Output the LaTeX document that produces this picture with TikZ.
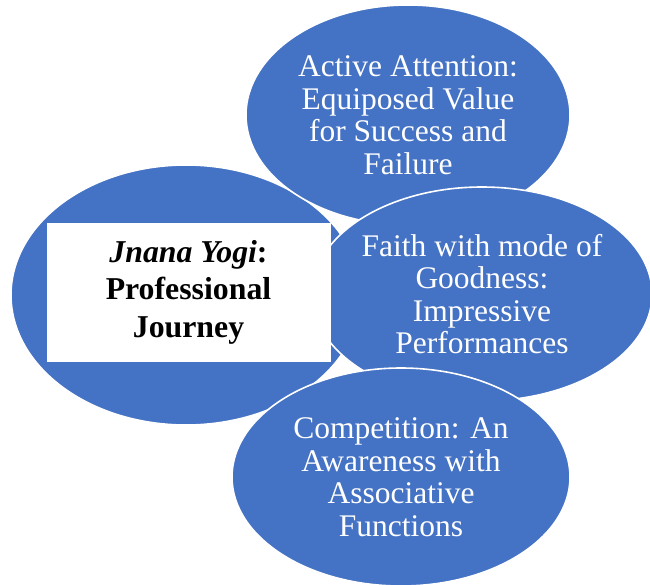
\documentclass[tikz,border=0pt]{standalone}
\usepackage{fontspec}
\setmainfont{Liberation Serif}
\usetikzlibrary{shapes.geometric}
\definecolor{ellblue}{HTML}{4472C4}
\tikzset{
  bubble/.style={ellipse, fill=ellblue, draw=white, line width=1.6pt, inner sep=0pt,
    text=white, align=center, font=\fontsize{31.5}{32.5}\selectfont},
  titlebox/.style={rectangle, fill=white, draw=white, inner sep=0pt,
    align=center, font=\fontsize{31.8}{37.5}\selectfont\bfseries}
}
\begin{document}
\begin{tikzpicture}[x=1pt,y=-1pt]
\useasboundingbox (0,0) rectangle (650,584);
\node[bubble, minimum width=350pt, minimum height=260pt] (left) at (186,295) {};
\node[bubble, minimum width=324pt, minimum height=220pt] (top) at (408,115)
  {Active Attention:\\Equiposed Value\\for Success and\\Failure};
\node[bubble, minimum width=322pt, minimum height=214pt] (mid) at (482,294)
  {Faith with mode of\\Goodness:\\Impressive\\Performances};
\node[bubble, minimum width=338pt, minimum height=218pt] (bot) at (401,477)
  {Competition: An\\Awareness with\\Associative\\Functions};
\node[titlebox, minimum width=283pt, minimum height=138pt] (title) at (188.5,292)
  {\textit{Jnana Yogi}:\\Professional\\Journey};
\end{tikzpicture}
\end{document}
